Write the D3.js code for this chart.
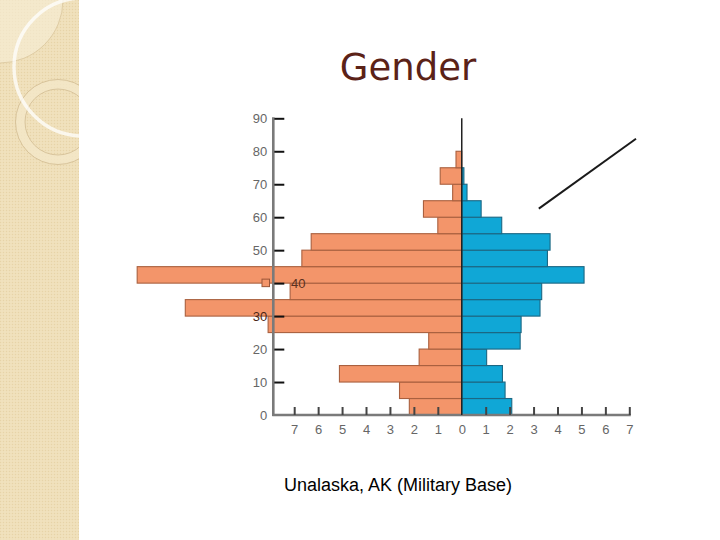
<!DOCTYPE html>
<html>
<head>
<meta charset="utf-8">
<script src="https://cdn.jsdelivr.net/npm/d3@7"></script>
<style>
  html, body { margin: 0; padding: 0; background: #fff; }
  svg { display: block; }
</style>
</head>
<body>
<svg id="chart" width="720" height="540"></svg>
<script>
// ---- data (5-year age bins, percent of population) ----
const ageBinStarts = [0, 5, 10, 15, 20, 25, 30, 35, 40, 45, 50, 55, 60, 65, 70, 75];
const leftValues  = [2.19, 2.6, 5.11, 1.78, 1.38, 8.09, 11.55, 7.17, 13.56, 6.68, 6.29, 1.0, 1.6, 0.38, 0.9, 0.24]; // orange
const rightValues = [2.09, 1.81, 1.70, 1.04, 2.44, 2.48, 3.27, 3.34, 5.11, 3.58, 3.69, 1.67, 0.81, 0.22, 0.09, 0];   // blue
const xTickValues = [-7, -6, -5, -4, -3, -2, -1, 0, 1, 2, 3, 4, 5, 6, 7];
const yTickValues = [0, 10, 20, 30, 40, 50, 60, 70, 80, 90];
const binWidth = 5;
const titleText = "Gender";
const captionText = "Unalaska, AK (Military Base)";

const svg = d3.select("#chart");

// ---- decorative left panel ----
const defs = svg.append("defs");
const pat = defs.append("pattern").attr("id", "tex").attr("patternUnits", "userSpaceOnUse")
  .attr("width", 3).attr("height", 3);
pat.append("rect").attr("width", 3).attr("height", 3).attr("fill", "#efdfb9");
pat.append("rect").attr("width", 1).attr("height", 1).attr("fill", "#e6d3a8");
pat.append("rect").attr("x", 1.5).attr("y", 1.5).attr("width", 1).attr("height", 1).attr("fill", "#f4e8c9");
defs.append("clipPath").attr("id", "panelClip").append("rect")
  .attr("x", 0).attr("y", 0).attr("width", 79).attr("height", 540);

const panel = svg.append("g").attr("clip-path", "url(#panelClip)");
panel.append("rect").attr("x", 0).attr("y", 0).attr("width", 79).attr("height", 540).attr("fill", "url(#tex)");
panel.append("circle").attr("cx", 0).attr("cy", 0).attr("r", 63)
  .attr("fill", "#f6ecd4").attr("fill-opacity", 0.65).attr("stroke", "#d9c59c").attr("stroke-width", 0.8);
panel.append("circle").attr("cx", 58).attr("cy", 122).attr("r", 37.5)
  .attr("fill", "none").attr("stroke", "#f4e7c8").attr("stroke-width", 9).attr("stroke-opacity", 0.8);
panel.append("circle").attr("cx", 58).attr("cy", 122).attr("r", 42.5)
  .attr("fill", "none").attr("stroke", "#d2bd93").attr("stroke-width", 0.8);
panel.append("circle").attr("cx", 58).attr("cy", 122).attr("r", 33)
  .attr("fill", "none").attr("stroke", "#d2bd93").attr("stroke-width", 0.8);
panel.append("circle").attr("cx", 83).attr("cy", 67).attr("r", 69)
  .attr("fill", "none").attr("stroke", "#ffffff").attr("stroke-width", 3.5).attr("stroke-opacity", 0.75);

// ---- title & caption ----
svg.append("text").attr("x", 408).attr("y", 80).attr("text-anchor", "middle")
  .attr("font-family", "DejaVu Sans, sans-serif").attr("font-size", 37)
  .attr("fill", "#5b2217").text(titleText);
svg.append("text").attr("x", 398).attr("y", 491).attr("text-anchor", "middle")
  .attr("font-family", "Liberation Sans, Arial, sans-serif").attr("font-size", 18)
  .attr("fill", "#000").text(captionText);

// ---- scales ----
const x = d3.scaleLinear().domain([-7, 7]).range([294.2, 629.3]);
const y = d3.scaleLinear().domain([0, 90]).range([415, 118.3]);
const axisLeftX = 273.3;

const bins = ageBinStarts.map((a, i) => ({ age: a, left: leftValues[i], right: rightValues[i] }));

// ---- bars ----
const g = svg.append("g");
g.selectAll("rect.left").data(bins).join("rect")
  .attr("class", "left")
  .attr("x", d => x(-d.left))
  .attr("y", d => y(d.age + binWidth))
  .attr("width", d => x(0) - x(-d.left))
  .attr("height", d => y(d.age) - y(d.age + binWidth))
  .attr("fill", "#f3956a").attr("stroke", "#a9603f").attr("stroke-width", 1.1);
g.selectAll("rect.right").data(bins.filter(d => d.right > 0)).join("rect")
  .attr("class", "right")
  .attr("x", x(0))
  .attr("y", d => y(d.age + binWidth))
  .attr("width", d => x(d.right) - x(0))
  .attr("height", d => y(d.age) - y(d.age + binWidth))
  .attr("fill", "#10a7d6").attr("stroke", "#1c6783").attr("stroke-width", 1.1);

// ---- y axis ----
const yAxis = d3.axisLeft(y).tickValues(yTickValues)
  .tickSizeInner(-11).tickSizeOuter(0).tickPadding(6)
  .tickFormat(d => d === 40 ? "" : d);
const yg = svg.append("g").attr("transform", `translate(${axisLeftX},0)`).call(yAxis);
yg.select(".domain").attr("stroke", "#7a7a7a").attr("stroke-width", 2.6)
  .attr("d", `M0,${y(90) - 1}V${y(0) + 1}`);
yg.selectAll(".tick line").attr("stroke", "#111").attr("stroke-width", 2)
  .attr("x1", 1);
yg.selectAll(".tick").filter(d => d === 0).select("line").remove();
yg.selectAll(".tick text").attr("font-family", "Liberation Sans, Arial, sans-serif")
  .attr("font-size", 13).attr("fill", d => d === 30 ? "#4a2616" : "#666");

// displaced "40" label with a small marker square
svg.append("rect").attr("x", 262).attr("y", y(40) - 4).attr("width", 7.5).attr("height", 7.5)
  .attr("fill", "#f3956a").attr("stroke", "#9a5638").attr("stroke-width", 1);
svg.append("text").attr("x", 291).attr("y", y(40) + 4.5)
  .attr("font-family", "Liberation Sans, Arial, sans-serif").attr("font-size", 13)
  .attr("fill", "#5a3020").text("40");

// ---- x axis ----
const xAxis = d3.axisBottom(x).tickValues(xTickValues)
  .tickSizeInner(-8).tickSizeOuter(0).tickPadding(10)
  .tickFormat(d => Math.abs(d));
const xg = svg.append("g").attr("transform", `translate(0,${y(0)})`).call(xAxis);
xg.select(".domain").attr("stroke", "#7a7a7a").attr("stroke-width", 2.4)
  .attr("d", `M${axisLeftX - 1},0H${x(7) + 1.5}`);
xg.selectAll(".tick line").attr("stroke", "#444").attr("stroke-width", 2);
xg.selectAll(".tick").filter(d => d === 0).select("line").remove();
xg.selectAll(".tick text").attr("font-family", "Liberation Sans, Arial, sans-serif")
  .attr("font-size", 13).attr("fill", "#666");

// ---- central zero line ----
svg.append("line").attr("x1", x(0)).attr("x2", x(0)).attr("y1", y(90)).attr("y2", y(0))
  .attr("stroke", "#222").attr("stroke-width", 1.5);

// ---- diagonal pointer line ----
svg.append("line").attr("x1", x(3.22)).attr("y1", y(62.6)).attr("x2", x(7.28)).attr("y2", y(83.8))
  .attr("stroke", "#1a1a1a").attr("stroke-width", 2);
</script>
</body>
</html>
